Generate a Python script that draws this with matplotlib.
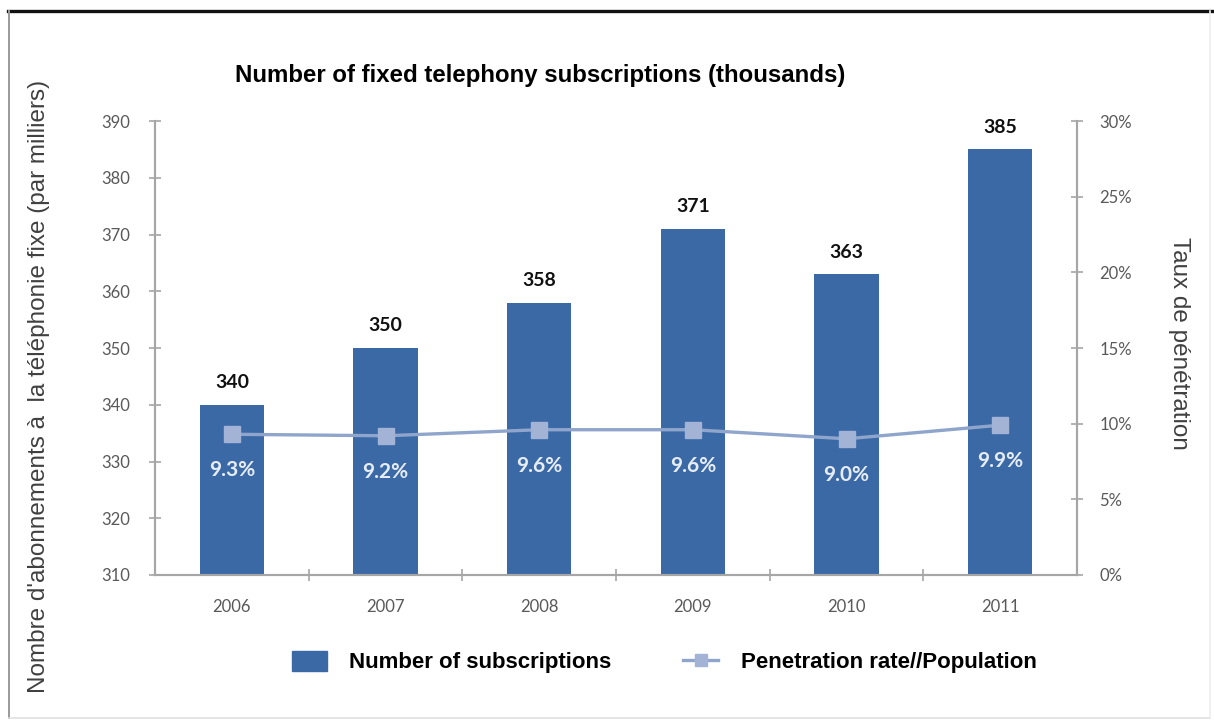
import matplotlib
matplotlib.use("Agg")
import matplotlib.pyplot as plt
from matplotlib.lines import Line2D
from matplotlib.patches import Patch
from matplotlib.ticker import FixedLocator, PercentFormatter

years = ["2006", "2007", "2008", "2009", "2010", "2011"]
subscriptions = [340, 350, 358, 371, 363, 385]
penetration = [9.3, 9.2, 9.6, 9.6, 9.0, 9.9]

BAR_COLOR = "#3B69A6"
LINE_COLOR = "#8FA5CB"
MARKER_COLOR = "#A3B3D6"
AXIS_COLOR = "#A6A6A6"
TICK_COLOR = "#595959"
NUM_FONT = ["Lato", "DejaVu Sans"]
TXT_FONT = ["Liberation Sans", "DejaVu Sans"]

fig = plt.figure(figsize=(12.14, 7.26), dpi=100)
ax = fig.add_axes([0.1277, 0.208, 0.7595, 0.6253])
ax2 = ax.twinx()

x = list(range(len(years)))

# ── Bars: subscriptions (left axis) ──────────────────────────────
ax.bar(x, [v - 310 for v in subscriptions], bottom=310, width=0.42,
       color=BAR_COLOR, zorder=2)
for xi, v in zip(x, subscriptions):
    ax.annotate(f"{v}", (xi, v), xytext=(0, 16), textcoords="offset points",
                ha="center", va="center", fontsize=14, fontweight="bold",
                family=NUM_FONT, color="#111111")

ax.set_xlim(-0.5, 5.5)
ax.set_ylim(310, 390)
ax.set_yticks(range(310, 391, 10))
ax.set_xticks(x)
ax.set_xticklabels(years)
ax.xaxis.set_minor_locator(FixedLocator([i + 0.5 for i in range(5)]))
ax.tick_params(axis="x", which="major", length=0, pad=17)
ax.tick_params(axis="x", which="minor", length=8, direction="inout",
               color=AXIS_COLOR, width=1.2)
ax.tick_params(axis="y", length=8, direction="inout", color=AXIS_COLOR,
               width=1.2, pad=14)
for lab in ax.get_xticklabels() + ax.get_yticklabels():
    lab.set_fontsize(12)
    lab.set_color(TICK_COLOR)
    lab.set_family(NUM_FONT)

ax.set_ylabel("Nombre d'abonnements à  la téléphonie fixe (par milliers)",
              fontsize=17.5, color="#404040", family=TXT_FONT)
ax.yaxis.set_label_coords(-0.114, 0.415)

# ── Line: penetration rate (right axis) ──────────────────────────
ax2.plot(x, penetration, color=LINE_COLOR, lw=2.4, marker="s", markersize=11,
         markerfacecolor=MARKER_COLOR, markeredgecolor=MARKER_COLOR, zorder=3)
for xi, p in zip(x, penetration):
    ax2.annotate(f"{p:.1f}%", (xi, p), xytext=(0, -26), textcoords="offset points",
                 ha="center", va="center", fontsize=15, fontweight="bold",
                 family=NUM_FONT, color="#E6EDF7")

ax2.set_ylim(0, 30)
ax2.set_yticks(range(0, 31, 5))
ax2.yaxis.set_major_formatter(PercentFormatter(decimals=0))
ax2.tick_params(axis="y", length=8, direction="inout", color=AXIS_COLOR,
                width=1.2, pad=12)
for lab in ax2.get_yticklabels():
    lab.set_fontsize(12)
    lab.set_color(TICK_COLOR)
    lab.set_family(NUM_FONT)
ax2.set_ylabel("Taux de pénétration", rotation=-90, fontsize=17.5, color="#404040",
               family=TXT_FONT)
ax2.yaxis.set_label_coords(1.123, 0.51)

for a in (ax, ax2):
    a.spines["top"].set_visible(False)
    for s in ("left", "right", "bottom"):
        a.spines[s].set_color(AXIS_COLOR)
        a.spines[s].set_linewidth(1.5)
ax.set_zorder(ax2.get_zorder() - 1)
ax2.patch.set_visible(False)
ax.patch.set_visible(False)

fig.text(0.1935, 0.896, "Number of fixed telephony subscriptions (thousands)",
         fontsize=17.3, fontweight="bold", family=TXT_FONT,
         ha="left", va="center")

# ── Legend ───────────────────────────────────────────────────────
handles = [
    Patch(facecolor=BAR_COLOR, edgecolor=BAR_COLOR),
    Line2D([0], [0], color=LINE_COLOR, lw=2.4, marker="s", markersize=9,
           markerfacecolor=MARKER_COLOR, markeredgecolor=MARKER_COLOR),
]
fig.legend(handles, ["Number of subscriptions", "Penetration rate//Population"],
           loc="center", bbox_to_anchor=(0.547, 0.088), ncol=2, frameon=False,
           prop={"family": TXT_FONT, "weight": "bold", "size": 16},
           handlelength=1.6, handleheight=1.0, columnspacing=3.2, handletextpad=1.0)

# ── Outer frame ──────────────────────────────────────────────────
fig.add_artist(Line2D([0.007, 1.0], [0.985, 0.985], color="#111111", lw=2.4,
                      transform=fig.transFigure))
fig.add_artist(Line2D([0.0075, 0.0075], [0.985, 0.011], color="#9A9A9A", lw=1.4,
                      transform=fig.transFigure))
fig.add_artist(Line2D([0.0075, 0.997], [0.011, 0.011], color="#E0E0E0", lw=1.2,
                      transform=fig.transFigure))
fig.add_artist(Line2D([0.997, 0.997], [0.985, 0.011], color="#EDEDED", lw=1.2,
                      transform=fig.transFigure))

fig.savefig("out.png", dpi=100)
